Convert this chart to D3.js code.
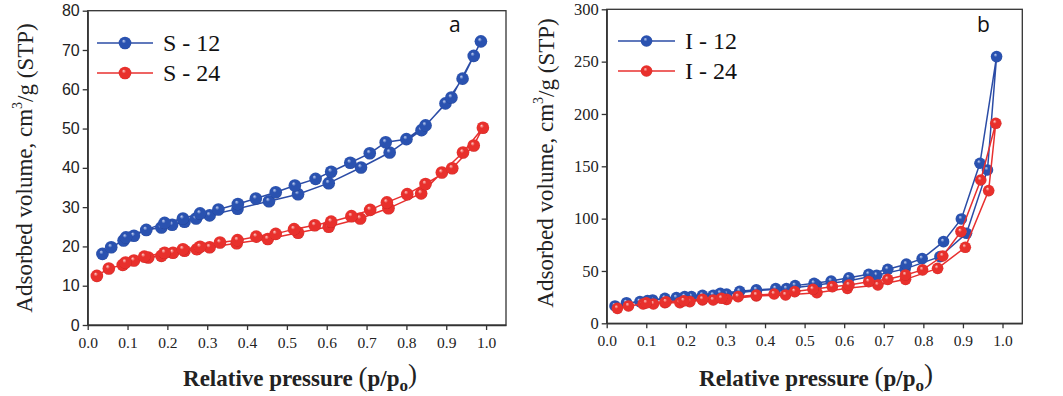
<!DOCTYPE html>
<html><head><meta charset="utf-8">
<script src="https://cdn.jsdelivr.net/npm/d3@7"></script>
<style>
html,body{margin:0;padding:0;background:#fff;}
svg{display:block;}
</style></head>
<body>
<svg id="c" width="1063" height="396"></svg>
<script>
// ---------- data ----------
const xTicks = [0,0.1,0.2,0.3,0.4,0.5,0.6,0.7,0.8,0.9,1.0];
const yTicksA = [0,10,20,30,40,50,60,70,80];
const yTicksB = [0,50,100,150,200,250,300];
const seriesNamesA = ["S - 12","S - 24"];
const seriesNamesB = ["I - 12","I - 24"];

const s12Ads = [[0.037,18.1],[0.059,19.8],[0.090,21.5],[0.116,22.7],[0.147,24.2],[0.185,24.8],[0.212,25.5],[0.243,26.3],[0.272,27.1],[0.306,27.9],[0.376,29.6],[0.455,31.5],[0.528,33.3],[0.605,36.1],[0.686,40.1],[0.758,43.9],[0.838,49.6],[0.898,56.4],[0.941,62.7],[0.987,72.2]];
const s12Des = [[0.969,68.5],[0.913,57.9],[0.848,50.8],[0.800,47.3],[0.748,46.5],[0.708,43.7],[0.659,41.3],[0.611,39.0],[0.572,37.2],[0.520,35.5],[0.472,33.8],[0.422,32.2],[0.377,30.8],[0.328,29.4],[0.282,28.4],[0.239,27.1],[0.193,26.0],[0.096,22.3]];
const s24Ads = [[0.023,12.5],[0.053,14.4],[0.088,15.3],[0.116,16.4],[0.152,17.2],[0.185,17.6],[0.214,18.4],[0.243,18.9],[0.274,19.3],[0.306,19.8],[0.374,20.8],[0.452,21.9],[0.528,23.5],[0.605,25.0],[0.684,27.1],[0.755,29.7],[0.837,33.5],[0.889,38.8],[0.942,43.9],[0.992,50.2]];
const s24Des = [[0.969,45.7],[0.915,39.9],[0.848,35.9],[0.802,33.3],[0.751,31.2],[0.709,29.3],[0.662,27.7],[0.611,26.3],[0.570,25.4],[0.518,24.4],[0.472,23.2],[0.423,22.5],[0.376,21.6],[0.332,21.0],[0.282,19.9],[0.239,19.3],[0.193,18.4],[0.142,17.4],[0.095,15.9]];

const i12Ads = [[0.021,16.6],[0.050,19.7],[0.084,20.7],[0.116,22.3],[0.147,23.9],[0.176,24.5],[0.214,25.5],[0.269,26.8],[0.303,28.0],[0.378,31.2],[0.454,33.1],[0.530,36.5],[0.609,40.5],[0.682,45.9],[0.754,52.0],[0.842,63.7],[0.909,86.0],[0.962,146.5],[0.985,254.8]];
const i12Des = [[0.943,152.9],[0.896,99.7],[0.851,78.0],[0.797,61.8],[0.757,56.5],[0.710,51.6],[0.662,46.8],[0.612,43.5],[0.567,40.4],[0.524,38.2],[0.476,36.0],[0.427,33.1],[0.378,32.0],[0.336,30.6],[0.287,28.7],[0.242,26.8],[0.197,25.5],[0.103,21.7]];
const i24Ads = [[0.027,14.3],[0.055,16.6],[0.092,18.5],[0.118,18.5],[0.147,19.7],[0.185,19.7],[0.210,20.7],[0.242,22.3],[0.269,22.3],[0.303,22.9],[0.378,26.1],[0.452,27.1],[0.531,29.3],[0.608,33.4],[0.685,36.6],[0.755,42.0],[0.836,52.5],[0.906,72.6],[0.965,126.8],[0.983,191.1]];
const i24Des = [[0.945,136.9],[0.895,87.6],[0.849,64.3],[0.798,51.0],[0.755,46.2],[0.710,42.0],[0.662,39.8],[0.612,36.6],[0.570,35.0],[0.521,32.5],[0.475,30.3],[0.423,28.0],[0.378,27.0],[0.332,25.5],[0.290,23.9],[0.242,23.0],[0.195,21.5],[0.150,20.5],[0.100,19.5]];

// ---------- drawing ----------
const svg = d3.select("#c");
const defs = svg.append("defs");
const COLORS = {blue:{line:"#2b4ca6", base:"#2a52b0", dark:"#1b3580", hi:"#c8d6f4"},
                red:{line:"#e8302f", base:"#e8302c", dark:"#b01818", hi:"#ffd0cc"}};
Object.entries(COLORS).forEach(([k,c])=>{
  const g = defs.append("radialGradient").attr("id","g_"+k)
    .attr("cx","50%").attr("cy","50%").attr("r","55%").attr("fx","38%").attr("fy","32%");
  g.append("stop").attr("offset","0%").attr("stop-color",c.hi);
  g.append("stop").attr("offset","30%").attr("stop-color",c.base);
  g.append("stop").attr("offset","85%").attr("stop-color",c.base);
  g.append("stop").attr("offset","100%").attr("stop-color",c.dark);
});

function panel(opt){
  const x = d3.scaleLinear().domain([0,1.05]).range([opt.x0,opt.x1]);
  const y = d3.scaleLinear().domain([0,opt.ymax]).range([opt.y0,opt.y1]);
  const g = svg.append("g");
  const axCol = "#333";
  g.append("rect").attr("x",opt.x0).attr("y",opt.y1).attr("width",opt.x1-opt.x0).attr("height",opt.y0-opt.y1)
    .attr("fill","none").attr("stroke",axCol).attr("stroke-width",1.3);
  const xa = g.append("g").attr("transform",`translate(0,${opt.y0})`)
    .call(d3.axisBottom(x).tickValues(xTicks).tickFormat(d3.format(".1f")).tickSize(5).tickSizeOuter(0));
  xa.select(".domain").attr("stroke",axCol).attr("stroke-width",1.3);
  xa.selectAll(".tick line").attr("stroke",axCol).attr("stroke-width",1.3);
  xa.selectAll(".tick text").attr("font-family","'Liberation Serif',serif").attr("font-size",15.5).attr("fill","#222").attr("dy","0.95em");
  const ya = g.append("g").attr("transform",`translate(${opt.x0},0)`)
    .call(d3.axisLeft(y).tickValues(opt.yTicks).tickSize(5).tickSizeOuter(0));
  ya.select(".domain").attr("stroke",axCol).attr("stroke-width",1.3);
  ya.selectAll(".tick line").attr("stroke",axCol).attr("stroke-width",1.3);
  ya.selectAll(".tick text").attr("font-family",opt.yFont).attr("font-size",opt.yFontSize).attr("fill","#222");

  const yt = g.append("text").attr("transform",`translate(${opt.ytX},${opt.ytY}) rotate(-90)`)
    .attr("text-anchor","middle").attr("font-family","'Liberation Serif',serif").attr("font-size",23).attr("fill","#222");
  yt.append("tspan").text("Adsorbed volume, cm");
  yt.append("tspan").attr("font-size",14).attr("dy","-0.75em").text("3");
  yt.append("tspan").attr("dy","0.5em").text("/g (STP)");
  const xt = g.append("text").attr("x",opt.xtX).attr("y",386).attr("text-anchor","middle")
    .attr("font-family","'Liberation Serif',serif").attr("font-weight","bold").attr("font-size",23).attr("fill","#222");
  xt.append("tspan").text("Relative pressure ");
  xt.append("tspan").attr("font-size",27).attr("font-weight","normal").text("(");
  xt.append("tspan").text("p/p");
  xt.append("tspan").attr("dy","0.3em").attr("font-size",17).text("o");
  xt.append("tspan").attr("dy","-0.3em").attr("font-size",27).attr("font-weight","normal").text(")");
  g.append("text").attr("x",opt.letterX).attr("y",32).attr("font-family","'Open Sans',sans-serif")
    .attr("font-size",21).attr("fill","#111").text(opt.letter);

  const line = d3.line().x(d=>x(d[0])).y(d=>y(d[1]));
  opt.series.forEach(s=>{
    const pts = s.ads.concat(s.des);
    g.append("path").attr("d",line(pts)).attr("fill","none").attr("stroke",COLORS[s.col].line).attr("stroke-width",1.5);
    g.selectAll(null).data(pts).enter().append("circle")
      .attr("cx",d=>x(d[0])).attr("cy",d=>y(d[1])).attr("r",opt.r)
      .attr("fill",`url(#g_${s.col})`);
  });
  opt.series.forEach((s,i)=>{
    const ly = opt.legY[i];
    g.append("line").attr("x1",opt.legX0).attr("x2",opt.legX1).attr("y1",ly).attr("y2",ly)
      .attr("stroke",COLORS[s.col].line).attr("stroke-width",1.5);
    g.append("circle").attr("cx",(opt.legX0+opt.legX1)/2).attr("cy",ly).attr("r",opt.r).attr("fill",`url(#g_${s.col})`);
    g.append("text").attr("x",opt.legX1+10).attr("y",ly+8).attr("font-family","'Liberation Serif',serif")
      .attr("font-size",24).attr("fill","#111").text(s.name);
  });
}

panel({x0:87.7,x1:506,y0:325,y1:10.7,ymax:80,yTicks:yTicksA,
  yFont:"'Liberation Sans',Arial,sans-serif",yFontSize:16,
  ytX:32,ytY:168,xtX:300,letter:"a",letterX:449,r:6.3,
  legX0:97,legX1:153,legY:[43,73],
  series:[{name:seriesNamesA[0],col:"blue",ads:s12Ads,des:s12Des},{name:seriesNamesA[1],col:"red",ads:s24Ads,des:s24Des}]});
panel({x0:606.7,x1:1022.3,y0:323.3,y1:9.3,ymax:300,yTicks:yTicksB,
  yFont:"'Liberation Serif',serif",yFontSize:16.5,
  ytX:553,ytY:163,xtX:816,letter:"b",letterX:977,r:5.8,
  legX0:618,legX1:675,legY:[41,71],
  series:[{name:seriesNamesB[0],col:"blue",ads:i12Ads,des:i12Des},{name:seriesNamesB[1],col:"red",ads:i24Ads,des:i24Des}]});
</script>
</body></html>
